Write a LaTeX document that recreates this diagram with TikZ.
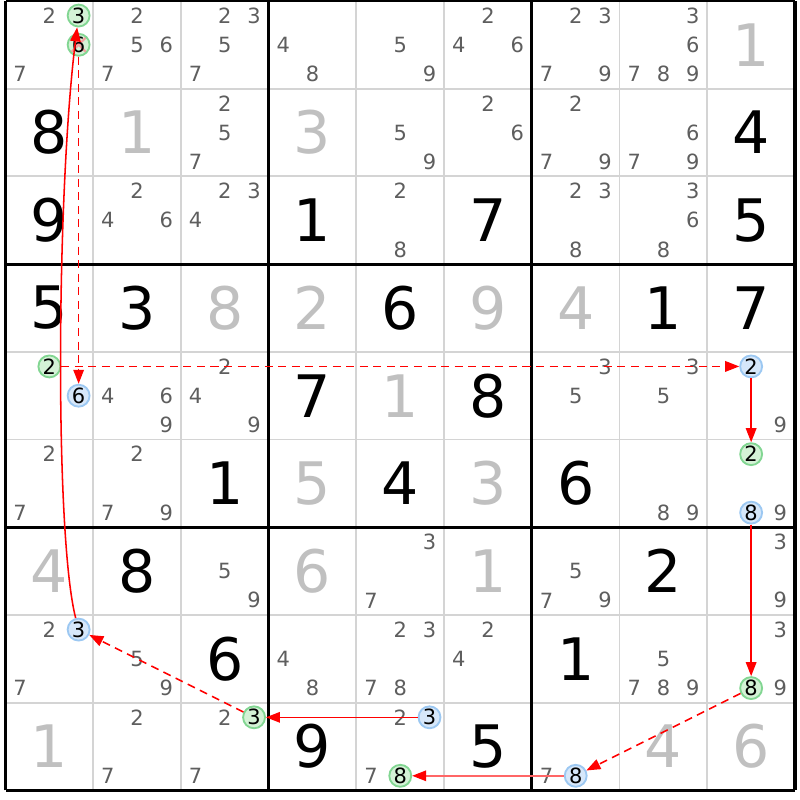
\documentclass[tikz,border=0pt]{standalone}
\usepackage{fontspec}
\setmainfont{DejaVu Sans}
\usetikzlibrary{arrows.meta}

\definecolor{solvedgray}{HTML}{C0C0C0}
\definecolor{candgray}{HTML}{5E5E5E}
\definecolor{gridgray}{HTML}{D4D4D4}
\definecolor{onfill}{HTML}{D4F2D6}
\definecolor{onedge}{HTML}{82D692}
\definecolor{offfill}{HTML}{D6E7FA}
\definecolor{offedge}{HTML}{9CC8F2}
\definecolor{strikered}{HTML}{F2A0A0}

% pencil marks of one cell: row, column, digits
\newcommand{\cands}[3]{%
  \foreach \d in {#3}{
    \pgfmathsetmacro{\cx}{#2-0.5+(mod(\d-1,3)-1)/3}
    \pgfmathsetmacro{\cy}{9.5-#1-(int((\d-1)/3)-1)/3}
    \node[cand] (k#1#2\d) at (\cx,\cy) {\d};
  }}
% one marked pencil mark: style, name, row, column, digit
\newcommand{\pin}[5]{%
  \pgfmathsetmacro{\cx}{#4-0.5+(mod(#5-1,3)-1)/3}
  \pgfmathsetmacro{\cy}{9.5-#3-(int((#5-1)/3)-1)/3}
  \node[#1] (#2) at (\cx,\cy) {#5};}

\begin{document}
\begin{tikzpicture}[
    given/.style={font=\fontsize{19}{19}\selectfont, inner sep=0pt},
    solved/.style={given, text=solvedgray},
    cand/.style={font=\fontsize{6.8}{7}\selectfont, text=candgray, inner sep=0pt},
    oncand/.style={cand, circle, draw=onedge, fill=onfill, text=black, minimum size=0.25cm, line width=0.6pt},
    offcand/.style={oncand, draw=offedge, fill=offfill},
    struck/.style={path picture={
        \draw[strikered, line width=0.7pt] (path picture bounding box.north west) -- (path picture bounding box.south east);
        \draw[strikered, line width=0.7pt] (path picture bounding box.north east) -- (path picture bounding box.south west);}},
    link/.style={red, line width=0.5pt, -{Triangle[length=1.6mm, width=1.2mm, color=red]}},
    weak/.style={link, dash pattern=on 2.6pt off 1.8pt}
]
\fill[white] (-0.063,-0.1) rectangle (9.057,9.011);
\useasboundingbox (-0.063,-0.1) rectangle (9.057,9.011);

% grid
\foreach \i in {1,2,4,5,7,8}{
  \draw[gridgray, line width=0.6pt] (\i,0) -- (\i,9);
  \draw[gridgray, line width=0.6pt] (0,\i) -- (9,\i);
}
\foreach \i in {0,3,6,9}{
  \draw[black, line width=1pt] (\i,0) -- (\i,9);
  \draw[black, line width=1pt] (0,\i) -- (9,\i);
}

% givens
\foreach \r/\c/\v in {2/1/8, 2/9/4, 3/1/9, 3/4/1, 3/6/7, 3/9/5, 4/1/5, 4/2/3, 4/5/6, 4/8/1, 4/9/7,
    5/4/7, 5/6/8, 6/3/1, 6/5/4, 6/7/6, 7/2/8, 7/8/2, 8/3/6, 8/7/1, 9/4/9, 9/6/5}
  \node[given] (v\r\c) at (\c-0.5,9.5-\r) {\v};
% solved cells
\foreach \r/\c/\v in {1/9/1, 2/2/1, 2/4/3, 4/3/8, 4/4/2, 4/6/9, 4/7/4, 5/5/1, 6/4/5, 6/6/3,
    7/1/4, 7/4/6, 7/6/1, 9/1/1, 9/8/4, 9/9/6}
  \node[solved] (v\r\c) at (\c-0.5,9.5-\r) {\v};

% pencil marks
\cands{1}{1}{2,7}
\cands{1}{2}{2,5,6,7}
\cands{1}{3}{2,3,5,7}
\cands{1}{4}{4,8}
\cands{1}{5}{5,9}
\cands{1}{6}{2,4,6}
\cands{1}{7}{2,3,7,9}
\cands{1}{8}{3,6,7,8,9}
\cands{2}{3}{2,5,7}
\cands{2}{5}{5,9}
\cands{2}{6}{2,6}
\cands{2}{7}{2,7,9}
\cands{2}{8}{6,7,9}
\cands{3}{2}{2,4,6}
\cands{3}{3}{2,3,4}
\cands{3}{5}{2,8}
\cands{3}{7}{2,3,8}
\cands{3}{8}{3,6,8}
\cands{5}{2}{4,6,9}
\cands{5}{3}{2,4,9}
\cands{5}{7}{3,5}
\cands{5}{8}{3,5}
\cands{5}{9}{9}
\cands{6}{1}{2,7}
\cands{6}{2}{2,7,9}
\cands{6}{8}{8,9}
\cands{6}{9}{9}
\cands{7}{3}{5,9}
\cands{7}{5}{3,7}
\cands{7}{7}{5,7,9}
\cands{7}{9}{3,9}
\cands{8}{1}{2,7}
\cands{8}{2}{5,9}
\cands{8}{4}{4,8}
\cands{8}{5}{2,3,7,8}
\cands{8}{6}{2,4}
\cands{8}{8}{5,7,8,9}
\cands{8}{9}{3,9}
\cands{9}{2}{2,7}
\cands{9}{3}{2,7}
\cands{9}{5}{2,7}
\cands{9}{7}{7}

% chain
\pin{oncand}{on113}{1}{1}{3}
\pin{oncand,struck}{on116}{1}{1}{6}
\pin{oncand}{on512}{5}{1}{2}
\pin{offcand}{off516}{5}{1}{6}
\pin{offcand}{off592}{5}{9}{2}
\pin{oncand}{on692}{6}{9}{2}
\pin{offcand}{off698}{6}{9}{8}
\pin{offcand}{off813}{8}{1}{3}
\pin{oncand}{on898}{8}{9}{8}
\pin{oncand}{on933}{9}{3}{3}
\pin{offcand}{off953}{9}{5}{3}
\pin{oncand}{on958}{9}{5}{8}
\pin{offcand}{off978}{9}{7}{8}

\draw[link] (off953) -- (on933);
\draw[weak] (on933) -- (off813);
\draw[link] (off813) .. controls (0.56,2.9) and (0.58,6.8) .. (on113);
\draw[weak] (on116) -- (off516);
\draw[weak] (on512) -- (off592);
\draw[link] (off592) -- (on692);
\draw[link] (off698) -- (on898);
\draw[weak] (on898) -- (off978);
\draw[link, draw=red!60] (off978) -- (on958);
\end{tikzpicture}
\end{document}
